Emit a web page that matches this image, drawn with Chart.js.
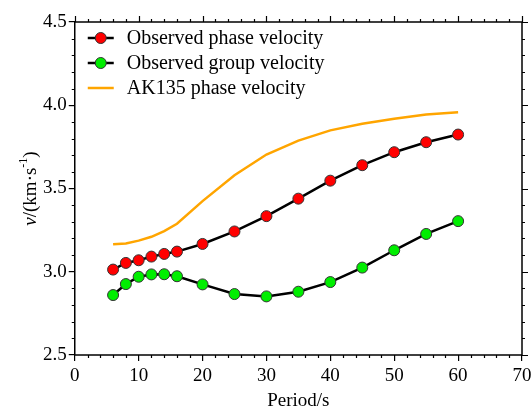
<!DOCTYPE html>
<html>
<head>
<meta charset="utf-8">
<script src="https://cdn.jsdelivr.net/npm/chart.js@4/dist/chart.umd.min.js"></script>
<style>
  body { margin: 0; background: #fff; }
  canvas { display: block; }
</style>
</head>
<body>
<canvas id="chart" width="531" height="411"></canvas>
<script>
const periods = [6, 8, 10, 12, 14, 16, 20, 25, 30, 35, 40, 45, 50, 55, 60];
const phaseVel = [3.013, 3.053, 3.069, 3.091, 3.107, 3.121, 3.167, 3.242, 3.334, 3.439, 3.547, 3.640, 3.718, 3.778, 3.824];
const groupVel = [2.860, 2.926, 2.970, 2.984, 2.985, 2.973, 2.924, 2.866, 2.852, 2.880, 2.938, 3.025, 3.129, 3.227, 3.304];
const ak135Vel = [3.165, 3.170, 3.187, 3.210, 3.244, 3.288, 3.424, 3.580, 3.704, 3.788, 3.849, 3.889, 3.919, 3.945, 3.958];

const FONT = "'Liberation Serif', 'Times New Roman', serif";

function toPoints(xs, ys) {
  return xs.map((x, i) => ({ x: x, y: ys[i] }));
}

// frame, minor ticks, mirrored ticks, legend and y title
const decorPlugin = {
  id: "decor",
  afterDraw(chart) {
    const ctx = chart.ctx;
    const area = chart.chartArea;
    const xs = chart.scales.x;
    const ys = chart.scales.y;
    ctx.save();
    ctx.strokeStyle = "#000";
    ctx.lineWidth = 1.5;
    ctx.strokeRect(area.left, area.top, area.right - area.left, area.bottom - area.top);

    ctx.lineWidth = 1.2;
    ctx.beginPath();
    for (let v = 0; v <= 70; v += 2) {
      const px = Math.round(xs.getPixelForValue(v)) + 0.5;
      const len = v % 10 === 0 ? 6 : 3;
      if (v % 10 !== 0) {
        ctx.moveTo(px, area.bottom);
        ctx.lineTo(px, area.bottom + len);
      }
      ctx.moveTo(px, area.top);
      ctx.lineTo(px, area.top - len);
    }
    for (let i = 0; i <= 20; i++) {
      const v = 2.5 + i * 0.1;
      const py = Math.round(ys.getPixelForValue(v)) + 0.5;
      const len = i % 5 === 0 ? 6 : 3;
      if (i % 5 !== 0) {
        ctx.moveTo(area.left, py);
        ctx.lineTo(area.left - len, py);
      }
      ctx.moveTo(area.right, py);
      ctx.lineTo(area.right + len, py);
    }
    ctx.stroke();

    // legend
    const lx = area.left + 13;
    let ly = area.top + 16;
    ctx.font = "20px " + FONT;
    ctx.textBaseline = "middle";
    ctx.textAlign = "left";
    chart.data.datasets.forEach((ds) => {
      ctx.strokeStyle = ds.borderColor;
      ctx.lineWidth = ds.borderWidth;
      ctx.beginPath();
      ctx.moveTo(lx, ly);
      ctx.lineTo(lx + 26, ly);
      ctx.stroke();
      if (ds.pointRadius > 0) {
        ctx.fillStyle = ds.pointBackgroundColor;
        ctx.strokeStyle = ds.pointBorderColor;
        ctx.lineWidth = 1;
        ctx.beginPath();
        ctx.arc(lx + 13, ly, ds.pointRadius, 0, Math.PI * 2);
        ctx.fill();
        ctx.stroke();
      }
      ctx.fillStyle = "#000";
      ctx.fillText(ds.label, lx + 39, ly + 1);
      ly += 25;
    });

    // y axis title: v/(km·s-1)
    ctx.translate(31, (area.top + area.bottom) / 2);
    ctx.rotate(-Math.PI / 2);
    const parts = [
      { t: "v", f: "italic 19px " + FONT, dy: 0 },
      { t: "/(km\u00b7s", f: "19px " + FONT, dy: 0 },
      { t: "-1", f: "12px " + FONT, dy: -7 },
      { t: ")", f: "19px " + FONT, dy: 0 }
    ];
    let total = 0;
    parts.forEach((p) => { ctx.font = p.f; total += ctx.measureText(p.t).width; });
    let cx = -total / 2;
    ctx.fillStyle = "#000";
    parts.forEach((p) => {
      ctx.font = p.f;
      ctx.fillText(p.t, cx, p.dy);
      cx += ctx.measureText(p.t).width;
    });
    ctx.restore();
  }
};

const observed = (label, values, color) => ({
  label: label,
  data: toPoints(periods, values),
  borderColor: "#000",
  borderWidth: 2.5,
  pointRadius: 5.5,
  pointBackgroundColor: color,
  pointBorderColor: "#333",
  pointBorderWidth: 1,
  tension: 0
});

new Chart(document.getElementById("chart"), {
  type: "line",
  data: {
    datasets: [
      observed("Observed phase velocity", phaseVel, "#ff0000"),
      observed("Observed group velocity", groupVel, "#00ee00"),
      {
        label: "AK135 phase velocity",
        data: toPoints(periods, ak135Vel),
        borderColor: "#ffa500",
        borderWidth: 2.5,
        pointRadius: 0,
        tension: 0
      }
    ]
  },
  options: {
    responsive: false,
    animation: false,
    layout: { padding: { left: 41, right: 0, top: 22, bottom: 0 } },
    plugins: { legend: { display: false }, tooltip: { enabled: false } },
    scales: {
      x: {
        type: "linear",
        min: 0,
        max: 70,
        afterFit: (scale) => { scale.paddingRight = 9; scale.paddingLeft = 0; },
        grid: { drawOnChartArea: false, drawTicks: true, tickLength: 6, color: "#000", lineWidth: 1.2 },
        border: { display: false },
        ticks: { stepSize: 10, color: "#000", padding: 6, font: { family: FONT, size: 19, lineHeight: 1 } },
        title: { display: true, text: "Period/s", color: "#000", padding: { top: 0, bottom: 0 }, font: { family: FONT, size: 19, lineHeight: 1 } }
      },
      y: {
        min: 2.5,
        max: 4.5,
        grid: { drawOnChartArea: false, drawTicks: true, tickLength: 6, color: "#000", lineWidth: 1.2 },
        border: { display: false },
        ticks: {
          stepSize: 0.5,
          color: "#000",
          padding: 2,
          font: { family: FONT, size: 19 },
          callback: (v) => v.toFixed(1)
        }
      }
    }
  },
  plugins: [decorPlugin]
});
</script>
</body>
</html>
